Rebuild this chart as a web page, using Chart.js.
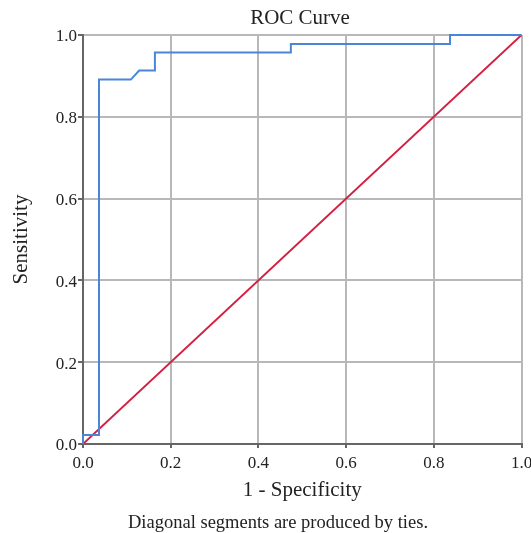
<!DOCTYPE html>
<html>
<head>
<meta charset="utf-8">
<script src="https://cdn.jsdelivr.net/npm/chart.js@4/dist/chart.umd.min.js"></script>
<style>
html,body{margin:0;padding:0;background:#fff;}
#wrap{width:531px;height:533px;position:relative;}
</style>
</head>
<body>
<div id="wrap"><canvas id="c" width="531" height="533"></canvas></div>
<script>
const chartTitle = "ROC Curve";
const footnote = "Diagonal segments are produced by ties.";
const xTitle = "1 - Specificity";
const yTitle = "Sensitivity";
const rocX = [0, 0, 0.0365, 0.0365, 0.109, 0.128, 0.164, 0.164, 0.474, 0.474, 0.837, 0.837, 1];
const rocY = [0, 0.022, 0.022, 0.891, 0.891, 0.913, 0.913, 0.957, 0.957, 0.978, 0.978, 1, 1];
const refX = [0, 1];
const refY = [0, 1];
const tickValues = [0, 0.2, 0.4, 0.6, 0.8, 1.0];

const serif = "'Liberation Serif', 'Times New Roman', serif";

const textPlugin = {
  id: 'texts',
  afterDraw(chart) {
    const ctx = chart.ctx;
    ctx.save();
    ctx.fillStyle = '#222';
    ctx.textAlign = 'center';
    ctx.textBaseline = 'middle';
    ctx.font = "21px " + serif;
    ctx.fillText(chartTitle, 300, 18);
    ctx.font = "18.5px " + serif;
    ctx.fillText(footnote, 278, 523);
    ctx.restore();
  }
};

new Chart(document.getElementById('c'), {
  type: 'scatter',
  data: {
    datasets: [
      {
        data: rocX.map((x, i) => ({x, y: rocY[i]})),
        showLine: true,
        borderColor: '#4a86d8',
        borderWidth: 2,
        pointRadius: 0,
        tension: 0,
        clip: false
      },
      {
        data: refX.map((x, i) => ({x, y: refY[i]})),
        showLine: true,
        borderColor: '#d42040',
        borderWidth: 1.8,
        pointRadius: 0,
        tension: 0,
        clip: false
      }
    ]
  },
  plugins: [textPlugin],
  options: {
    responsive: false,
    animation: false,
    layout: { padding: { top: 35, right: 9.5, left: 0, bottom: 19 } },
    plugins: { legend: { display: false }, tooltip: { enabled: false }, title: { display: false } },
    scales: {
      x: {
        type: 'linear', min: 0, max: 1,
        afterFit(s) { s.height = 70; s.paddingLeft = 0; s.paddingRight = 0; },
        afterBuildTicks(s) { s.ticks = tickValues.map(v => ({value: v})); },
        ticks: {
          font: { family: serif, size: 17 }, color: '#222', padding: 5,
          callback: v => v.toFixed(1), maxRotation: 0, autoSkip: false
        },
        grid: { color: '#b8b8b8', lineWidth: 2, drawTicks: true, tickLength: 4, tickColor: '#666' },
        border: { color: '#666', width: 2 },
        title: { display: true, text: xTitle, font: { family: serif, size: 21 }, color: '#222', padding: { top: 0, bottom: 11 } }
      },
      y: {
        type: 'linear', min: 0, max: 1,
        afterFit(s) { s.width = 83; s.paddingTop = 0; s.paddingBottom = 0; },
        afterBuildTicks(s) { s.ticks = tickValues.map(v => ({value: v})); },
        ticks: {
          font: { family: serif, size: 17 }, color: '#222', padding: 1, labelOffset: 2,
          callback: v => v.toFixed(1), autoSkip: false
        },
        grid: { color: '#b8b8b8', lineWidth: 2, drawTicks: true, tickLength: 5, tickColor: '#666' },
        border: { color: '#666', width: 2 },
        title: { display: true, text: yTitle, font: { family: serif, size: 21 }, color: '#222', padding: { top: 9, bottom: 0 } }
      }
    }
  }
});
</script>
</body>
</html>
